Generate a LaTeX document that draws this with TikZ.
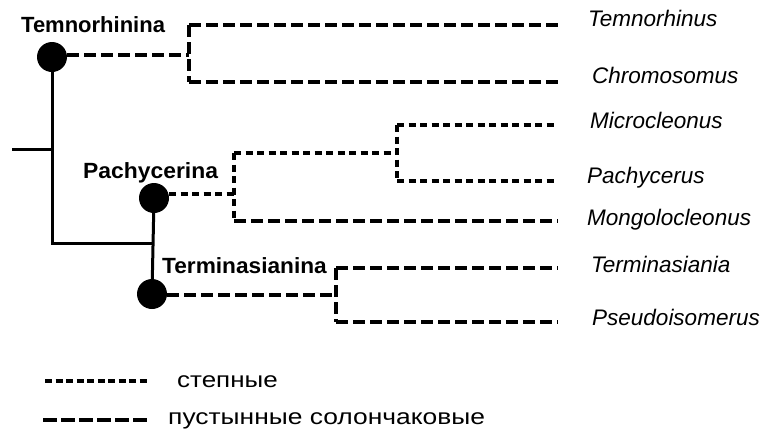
\documentclass[tikz,border=0pt]{standalone}
\usepackage{fontspec}
\setmainfont{Liberation Sans}
\begin{document}
\begin{tikzpicture}[x=1pt,y=-1pt,
  tree/.style={line width=3pt},
  longdash/.style={line width=3.8pt, dash pattern=on 12pt off 5pt},
  shortdash/.style={line width=3.8pt, dash pattern=on 7pt off 4.5pt},
  legshort/.style={line width=4pt, dash pattern=on 7pt off 3.5pt},
  leglong/.style={line width=4pt, dash pattern=on 14pt off 4pt},
  clade/.style={circle, fill=black, inner sep=0pt, minimum size=30pt},
  taxon/.style={anchor=base west, inner sep=0pt, font=\fontsize{22.5}{27}\selectfont\itshape},
  grouplabel/.style={anchor=base west, inner sep=0pt, font=\fontsize{22}{26}\selectfont\bfseries},
  legendtext/.style={anchor=base west, inner sep=0pt, font=\fontsize{22}{26}\selectfont}]
\useasboundingbox (0,0) rectangle (766,429);

% clade nodes
\node[clade] (cT) at (52,57) {};
\node[clade] (cP) at (154,198) {};
\node[clade] (cM) at (152,294) {};

% group labels
\node[grouplabel] (lT) at (21,32.5) {Temnorhinina};
\node[grouplabel] (lP) at (83,178) {\scalebox{1.04}[1]{Pachycerina}};
\node[grouplabel] (lM) at (162,273) {\scalebox{1.03}[1]{Terminasianina}};

% taxa
\node[taxon] (t1) at (588,26) {Temnorhinus};
\node[taxon] (t2) at (592,83) {Chromosomus};
\node[taxon] (t3) at (590,128) {Microcleonus};
\node[taxon] (t4) at (587,183) {Pachycerus};
\node[taxon] (t5) at (587,225) {Mongolocleonus};
\node[taxon] (t6) at (591,272) {Terminasiania};
\node[taxon] (t7) at (592,325) {Pseudoisomerus};

% junctions and line ends
\coordinate (root) at (12,149);
\coordinate (rootj) at (52,149);
\coordinate (jbase) at (52,243);
\coordinate (jsub) at (152,243);
\coordinate (jT) at (189,55);
\coordinate (jP) at (234,194);
\coordinate (jPP) at (397,153);
\coordinate (jM) at (336,295);
\coordinate (e1) at (558,25);
\coordinate (e2) at (558,82);
\coordinate (e3) at (558,125);
\coordinate (e4) at (558,181);
\coordinate (e5) at (558,221);
\coordinate (e6) at (558,268);
\coordinate (e7) at (558,322);

% solid backbone
\draw[tree] (root) -- (rootj);
\draw[tree] (cT.center) -- (jbase) -- (jsub);
\draw[tree] (cP.center) -- (cM.center);

% Temnorhinina
\draw[longdash] (cT.east |- jT) -- (jT);
\draw[longdash] (jT |- e1) -- (jT |- e2);
\draw[longdash] (jT |- e1) -- (e1);
\draw[longdash] (jT |- e2) -- (e2);

% Pachycerina
\draw[shortdash] (cP.east |- jP) -- (jP);
\draw[shortdash] (jP |- jPP) -- (jP |- e5);
\draw[shortdash] (jP |- jPP) -- (jPP);
\draw[shortdash] (jPP |- e3) -- (jPP |- e4);
\draw[shortdash] (jPP |- e3) -- (e3);
\draw[shortdash] (jPP |- e4) -- (e4);
\draw[longdash] (jP |- e5) -- (e5);

% Terminasianina
\draw[longdash] (cM.east |- jM) -- (jM);
\draw[longdash] (jM |- e6) -- (jM |- e7);
\draw[longdash] (jM |- e6) -- (e6);
\draw[longdash] (jM |- e7) -- (e7);

% legend
\coordinate (ls1) at (45,381);
\coordinate (ls2) at (148,381);
\coordinate (ll1) at (43,420);
\coordinate (ll2) at (148,420);
\draw[legshort] (ls1) -- (ls2);
\draw[leglong] (ll1) -- (ll2);
\node[legendtext] (g1) at (177,387) {\scalebox{1.18}[1]{степные}};
\node[legendtext] (g2) at (168,424) {\scalebox{1.2}[1]{пустынные солончаковые}};
\end{tikzpicture}
\end{document}
